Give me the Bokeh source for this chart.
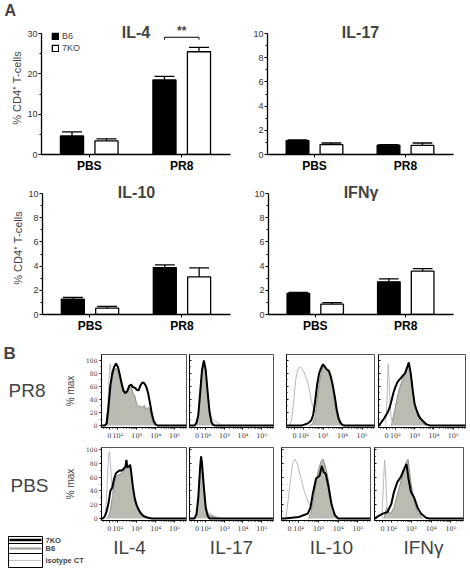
from bokeh.plotting import figure
from bokeh.layouts import column, row
from bokeh.models import Range1d, FixedTicker, Label, Legend, LegendItem
from bokeh.embed import file_html
from bokeh.resources import INLINE

# ---------------- Panel A: % CD4+ T-cells (mean, SEM) ----------------
GROUPS = ["PBS", "PR8"]
STRAINS = ["B6", "7KO"]

IL4_B6 = [4.6, 18.5]
IL4_B6_SEM = [1.0, 0.9]
IL4_KO = [3.4, 25.5]
IL4_KO_SEM = [0.5, 1.1]

IL17_B6 = [1.15, 0.77]
IL17_B6_SEM = [0.05, 0.04]
IL17_KO = [0.82, 0.75]
IL17_KO_SEM = [0.13, 0.20]

IL10_B6 = [1.26, 3.88]
IL10_B6_SEM = [0.16, 0.22]
IL10_KO = [0.52, 3.11]
IL10_KO_SEM = [0.16, 0.74]

IFNG_B6 = [1.75, 2.70]
IFNG_B6_SEM = [0.08, 0.25]
IFNG_KO = [0.85, 3.58]
IFNG_KO_SEM = [0.13, 0.22]

IL4_SIGNIF = "**"

# ---------------- Panel B: flow histograms (% max) ----------------
CYTOKINES = ["IL-4", "IL-17", "IL-10", "IFNγ"]
CONDITIONS = ["PR8", "PBS"]
LEGEND_LABELS = ["7KO", "B6", "isotype CT"]
HIST_TICKS = [1.54, 2, 3, 4, 5]
HIST_TICK_LABELS = ["0", "10²", "10³", "10⁴", "10⁵"]
HIST_Y_TICKS = [0, 20, 40, 60, 80, 100]

# (display position, % max)
PR8_IL4_KO = [(1.3, 0), (1.4, 3), (1.5, 30), (1.6, 62), (1.7, 80), (1.8, 90), (1.9, 95), (2.0, 90), (2.1, 78),
              (2.2, 64), (2.3, 53), (2.4, 50), (2.5, 53), (2.6, 61), (2.7, 63), (2.8, 59), (2.9, 58), (3.0, 55),
              (3.1, 54), (3.2, 62), (3.3, 66), (3.4, 65), (3.5, 60), (3.6, 50), (3.7, 35), (3.8, 18), (3.9, 7),
              (4.0, 2), (4.1, 0)]
PR8_IL4_B6 = [(1.4, 0), (1.5, 15), (1.6, 50), (1.7, 75), (1.8, 85), (1.9, 88), (2.0, 83), (2.1, 72), (2.2, 60),
              (2.3, 50), (2.4, 48), (2.5, 52), (2.6, 58), (2.7, 60), (2.8, 50), (2.9, 45), (3.0, 33), (3.1, 29),
              (3.2, 30), (3.3, 27), (3.4, 31), (3.5, 24), (3.6, 28), (3.7, 25), (3.8, 10), (3.9, 2), (4.0, 0)]
PR8_IL4_ISO = [(1.35, 0), (1.45, 20), (1.52, 70), (1.58, 95), (1.63, 88), (1.7, 55), (1.8, 20), (1.9, 5), (2.0, 0)]

PR8_IL17_KO = [(1.4, 0), (1.5, 4), (1.6, 16), (1.7, 50), (1.8, 85), (1.9, 100), (2.0, 85), (2.1, 52), (2.2, 22),
               (2.3, 6), (2.4, 1), (2.5, 0)]
PR8_IL17_B6 = [(1.4, 0), (1.5, 3), (1.6, 14), (1.7, 47), (1.8, 83), (1.9, 97), (2.0, 84), (2.1, 50), (2.2, 22),
               (2.3, 7), (2.4, 2), (2.5, 0)]
PR8_IL17_ISO = [(1.4, 0), (1.5, 3), (1.6, 15), (1.7, 48), (1.8, 84), (1.9, 96), (2.0, 82), (2.1, 50), (2.2, 25),
                (2.3, 12), (2.4, 8), (2.5, 6), (2.6, 5), (2.7, 3), (2.8, 1), (2.9, 0)]

PR8_IL10_KO = [(1.9, 0), (2.0, 1), (2.1, 2), (2.2, 3), (2.3, 5), (2.4, 8), (2.5, 17), (2.6, 38), (2.7, 63),
               (2.8, 80), (2.9, 88), (3.0, 94), (3.1, 90), (3.2, 86), (3.3, 84), (3.4, 75), (3.5, 62), (3.6, 45),
               (3.7, 25), (3.8, 11), (3.9, 4), (4.0, 1), (4.1, 0)]
PR8_IL10_B6 = [(2.3, 0), (2.4, 1), (2.5, 5), (2.6, 14), (2.7, 40), (2.8, 65), (2.9, 80), (3.0, 89), (3.1, 90),
               (3.2, 86), (3.3, 80), (3.4, 72), (3.5, 55), (3.6, 34), (3.7, 16), (3.8, 7), (3.9, 3), (4.0, 0)]
PR8_IL10_ISO = [(1.3, 0), (1.4, 10), (1.5, 38), (1.6, 70), (1.7, 86), (1.8, 90), (1.9, 88), (2.0, 84), (2.1, 76),
                (2.2, 68), (2.3, 56), (2.4, 38), (2.5, 28), (2.6, 19), (2.7, 12), (2.8, 8), (2.9, 5), (3.0, 3),
                (3.1, 2), (3.2, 1), (3.3, 0)]

PR8_IFNG_KO = [(1.15, 0), (1.2, 2), (1.3, 6), (1.4, 10), (1.5, 15), (1.6, 20), (1.7, 27), (1.8, 38), (1.9, 50),
               (2.0, 59), (2.1, 66), (2.2, 70), (2.3, 73), (2.4, 77), (2.5, 80), (2.6, 88), (2.7, 97), (2.8, 80),
               (2.9, 55), (3.0, 33), (3.1, 24), (3.2, 16), (3.3, 11), (3.4, 8), (3.5, 5), (3.6, 2), (3.7, 1),
               (3.8, 0)]
PR8_IFNG_B6 = [(1.8, 0), (1.9, 14), (2.0, 28), (2.1, 43), (2.2, 55), (2.3, 65), (2.4, 72), (2.5, 78), (2.6, 86),
               (2.7, 94), (2.8, 80), (2.9, 55), (3.0, 33), (3.1, 22), (3.2, 13), (3.3, 8), (3.4, 5), (3.5, 2),
               (3.6, 0)]
PR8_IFNG_ISO = [(1.5, 0), (1.57, 40), (1.63, 95), (1.68, 70), (1.74, 25), (1.8, 8), (1.9, 2), (2.0, 0)]

PBS_IL4_KO = [(1.2, 0), (1.3, 3), (1.4, 10), (1.5, 22), (1.6, 40), (1.7, 45), (1.8, 58), (1.9, 66), (2.0, 68),
              (2.1, 70), (2.2, 69), (2.3, 72), (2.4, 75), (2.45, 85), (2.5, 74), (2.6, 76), (2.65, 78), (2.7, 68),
              (2.8, 45), (2.9, 28), (3.0, 19), (3.1, 13), (3.2, 8), (3.3, 5), (3.4, 3), (3.6, 1), (3.8, 0)]
PBS_IL4_B6 = [(1.4, 0), (1.5, 3), (1.6, 12), (1.7, 30), (1.8, 50), (1.9, 60), (2.0, 63), (2.1, 64), (2.2, 66),
              (2.3, 68), (2.4, 72), (2.5, 74), (2.6, 76), (2.7, 72), (2.8, 40), (2.9, 24), (3.0, 15), (3.1, 11),
              (3.2, 6), (3.3, 3), (3.4, 2), (3.5, 0)]
PBS_IL4_ISO = [(1.3, 0), (1.4, 30), (1.5, 90), (1.55, 97), (1.6, 80), (1.7, 40), (1.8, 12), (1.9, 3), (2.0, 0)]

PBS_IL17_KO = [(1.4, 0), (1.5, 6), (1.6, 30), (1.7, 75), (1.75, 90), (1.8, 80), (1.9, 45), (2.0, 15), (2.1, 4),
               (2.2, 0)]
PBS_IL17_B6 = [(1.4, 0), (1.5, 5), (1.6, 28), (1.7, 72), (1.75, 88), (1.8, 78), (1.9, 45), (2.0, 18), (2.1, 8),
               (2.2, 5), (2.4, 3), (2.6, 1), (2.8, 0)]
PBS_IL17_ISO = [(1.4, 0), (1.5, 5), (1.6, 25), (1.7, 70), (1.75, 85), (1.8, 76), (1.9, 45), (2.0, 20), (2.1, 10),
                (2.3, 6), (2.5, 3), (2.8, 0)]

PBS_IL10_KO = [(1.3, 0), (2.0, 2), (2.46, 7), (2.6, 16), (2.71, 35), (2.88, 58), (3.06, 62), (3.17, 76),
               (3.27, 67), (3.37, 65), (3.49, 49), (3.66, 21), (3.83, 5), (4.0, 0)]
PBS_IL10_B6 = [(2.5, 0), (2.63, 9), (2.8, 35), (2.97, 67), (3.14, 83), (3.23, 86), (3.35, 76), (3.49, 58),
               (3.63, 30), (3.74, 12), (3.91, 2), (4.0, 0)]
PBS_IL10_ISO = [(1.35, 0), (1.52, 40), (1.69, 80), (1.81, 86), (1.95, 78), (2.12, 57), (2.29, 39), (2.46, 25),
                (2.63, 16), (2.8, 7), (3.06, 2), (3.3, 0)]

PBS_IFNG_KO = [(1.15, 0), (1.3, 3), (1.55, 7), (1.78, 9), (1.98, 21), (2.12, 39), (2.29, 53), (2.46, 60),
               (2.63, 72), (2.75, 79), (2.85, 58), (2.97, 39), (3.14, 30), (3.31, 16), (3.48, 7), (3.74, 1),
               (3.9, 0)]
PBS_IFNG_B6 = [(1.6, 0), (1.75, 16), (1.85, 10), (1.95, 7), (2.12, 16), (2.29, 35), (2.46, 53), (2.63, 69),
               (2.75, 83), (2.83, 86), (2.97, 53), (3.14, 25), (3.31, 9), (3.48, 2), (3.6, 0)]
PBS_IFNG_ISO = [(1.5, 0), (1.58, 50), (1.64, 85), (1.7, 60), (1.76, 15), (1.85, 3), (1.95, 0)]

# ---------------- styling ----------------
FONT = "Liberation Sans"
SERIF = "DejaVu Serif"
XLO, XHI = -0.884, 4.594
GROUP_STEP = 2.68
BAR_W = 0.67
CAP = 0.29
D_LO, D_HI = 1.128, 5.64
B6_FILL = "#bbbbb2"
B6_LINE = "#8e8e88"
ISO_LINE = "#b8b8c2"


def plain(w, h, xr, yr):
    p = figure(width=w, height=h, x_range=Range1d(*xr), y_range=Range1d(*yr),
               x_axis_type=None, y_axis_type=None, output_backend="svg", toolbar_location=None,
               min_border_left=0, min_border_right=0, min_border_top=0, min_border_bottom=0)
    p.outline_line_color = None
    p.grid.visible = False
    return p


def bar_panel(title, b6, b6e, ko, koe, ymax, ystep, w, h, bl, br, bt, bb,
              ylabel=None, legend=False, sig=None):
    p = figure(width=w, height=h, x_range=Range1d(XLO, XHI), y_range=Range1d(0, ymax * 1.1),
               output_backend="svg", toolbar_location=None,
               min_border_left=bl, min_border_right=br, min_border_top=bt, min_border_bottom=bb)
    p.outline_line_color = None
    p.xgrid.visible = False
    p.ygrid.visible = False
    xb = [g * GROUP_STEP for g in range(len(GROUPS))]
    xk = [x + 1 for x in xb]
    rb = p.vbar(x=xb, top=b6, width=BAR_W, fill_color="black", line_color="black", line_width=1.3)
    rk = p.vbar(x=xk, top=ko, width=BAR_W, fill_color="white", line_color="black", line_width=1.3)
    for xs, m, e in ((xb, b6, b6e), (xk, ko, koe)):
        tops = [a + b for a, b in zip(m, e)]
        p.segment(x0=xs, y0=m, x1=xs, y1=tops, line_color="black", line_width=1.3)
        p.segment(x0=[x - CAP for x in xs], y0=tops, x1=[x + CAP for x in xs], y1=tops,
                  line_color="black", line_width=1.3)

    centers = [x + 0.5 for x in xb]
    p.xaxis.ticker = FixedTicker(ticks=centers)
    p.xaxis.major_label_overrides = {c: g for c, g in zip(centers, GROUPS)}
    p.xaxis.major_tick_out = 3
    p.xaxis.major_tick_in = 0
    p.xaxis.minor_tick_out = 0
    p.xaxis.major_label_standoff = 1
    p.xaxis.major_label_text_font = FONT
    p.xaxis.major_label_text_font_size = "12px"
    p.xaxis.major_label_text_font_style = "bold"
    p.xaxis.major_label_text_color = "black"
    p.xaxis.axis_line_width = 1.3

    p.yaxis.ticker = FixedTicker(ticks=list(range(0, ymax + 1, ystep)),
                                 minor_ticks=[v + ystep / 2 for v in range(0, ymax, ystep)])
    p.yaxis.bounds = (0, ymax)
    p.yaxis.major_tick_out = 3
    p.yaxis.major_tick_in = 0
    p.yaxis.minor_tick_out = 2
    p.yaxis.minor_tick_in = 0
    p.yaxis.major_label_standoff = 1
    p.yaxis.major_label_text_font = FONT
    p.yaxis.major_label_text_font_size = "9px"
    p.yaxis.major_label_text_color = "#333333"
    p.yaxis.axis_line_width = 1.3
    if ylabel:
        p.yaxis.axis_label = ylabel
        p.yaxis.axis_label_text_font = FONT
        p.yaxis.axis_label_text_font_size = "11px"
        p.yaxis.axis_label_text_font_style = "normal"
        p.yaxis.axis_label_standoff = 1

    p.add_layout(Label(x=(XLO + XHI) / 2, y=ymax, y_offset=1, text=title, text_align="center",
                       text_baseline="middle", text_font=FONT, text_font_size="16px",
                       text_font_style="bold"))
    if legend:
        lg = Legend(items=[LegendItem(label=STRAINS[0], renderers=[rb]),
                           LegendItem(label=STRAINS[1], renderers=[rk])],
                    location="top_left", margin=10, padding=0, spacing=2,
                    glyph_width=8, glyph_height=8, label_height=8, label_width=10,
                    label_standoff=3, label_text_font=FONT, label_text_font_size="9px",
                    border_line_color=None, background_fill_alpha=0)
        p.add_layout(lg)
    if sig:
        g = 1
        yb = max(b6[g] + b6e[g], ko[g] + koe[g]) + 0.083 * ymax
        drop = 0.02 * ymax
        p.line(x=[xb[g], xb[g], xk[g], xk[g]], y=[yb - drop, yb, yb, yb - drop],
               line_color="black", line_width=1)
        p.add_layout(Label(x=(xb[g] + xk[g]) / 2, y=yb, text=sig, text_align="center",
                           text_baseline="bottom", y_offset=-1, text_font=FONT,
                           text_font_size="12px", text_font_style="bold"))
    return p


def xy(pts, pad=False):
    xs = [q[0] for q in pts]
    ys = [q[1] for q in pts]
    if pad:
        xs = [D_LO] + xs + [D_HI]
        ys = [0] + ys + [0]
    return xs, ys


def hist_panel(ko, b6, iso, w, h, bl, br, bt, bb, ytop, first=False):
    p = figure(width=w, height=h, x_range=Range1d(D_LO, D_HI), y_range=Range1d(-3, ytop),
               output_backend="svg", toolbar_location=None,
               min_border_left=bl, min_border_right=br, min_border_top=bt, min_border_bottom=bb)
    p.xgrid.visible = False
    p.ygrid.visible = False
    p.outline_line_color = "#555555"
    p.outline_line_width = 1
    bx, by = xy(b6)
    p.varea(x=bx, y1=[0] * len(bx), y2=by, fill_color=B6_FILL)
    p.line(bx, by, line_color=B6_LINE, line_width=1)
    ix, iy = xy(iso)
    p.line(ix, iy, line_color=ISO_LINE, line_width=1)
    kx, ky = xy(ko, pad=True)
    p.line(kx, ky, line_color="black", line_width=2)

    minor = [n + lg for n in (2, 3, 4, 5) for lg in (0.301, 0.477, 0.602, 0.699, 0.778, 0.845, 0.903, 0.954)
             if n + lg < D_HI]
    p.xaxis.ticker = FixedTicker(ticks=HIST_TICKS, minor_ticks=minor + [1.25, 1.4, 1.7, 1.85])
    p.xaxis.major_label_overrides = dict(zip(HIST_TICKS, HIST_TICK_LABELS))
    p.xaxis.major_tick_out = 2
    p.xaxis.major_tick_in = 0
    p.xaxis.minor_tick_out = 1
    p.xaxis.minor_tick_in = 0
    p.xaxis.major_label_standoff = 2
    p.xaxis.major_label_text_font = SERIF
    p.xaxis.major_label_text_font_size = "6.5px"
    p.xaxis.major_label_text_color = "#333333"
    p.xaxis.axis_line_color = "black"

    p.yaxis.ticker = FixedTicker(ticks=HIST_Y_TICKS, minor_ticks=[v + 10 for v in HIST_Y_TICKS[:-1]])
    if first:
        p.yaxis.major_tick_out = 2
        p.yaxis.major_tick_in = 0
        p.yaxis.minor_tick_out = 1
        p.yaxis.minor_tick_in = 0
        p.yaxis.major_label_standoff = 2
        p.yaxis.major_label_text_font = SERIF
        p.yaxis.major_label_text_font_size = "6px"
        p.yaxis.major_label_text_color = "#333333"
        p.yaxis.axis_label = "% max"
        p.yaxis.axis_label_text_font = FONT
        p.yaxis.axis_label_text_font_size = "10px"
        p.yaxis.axis_label_text_font_style = "normal"
        p.yaxis.axis_label_standoff = 7
    else:
        p.yaxis.major_label_overrides = {t: "" for t in HIST_Y_TICKS}
        p.yaxis.major_tick_out = 0
        p.yaxis.major_tick_in = 2
        p.yaxis.minor_tick_out = 0
        p.yaxis.minor_tick_in = 1
        p.yaxis.major_label_standoff = 0
    return p


# ---------------- header strip with panel letter A ----------------
strip_a = plain(470, 20, (0, 470), (20, 0))
strip_a.add_layout(Label(x=4, y=1, text="A", text_baseline="top", text_font=FONT,
                         text_font_size="16px", text_font_style="bold"))

# ---------------- Panel A ----------------
p_il4 = bar_panel("IL-4", IL4_B6, IL4_B6_SEM, IL4_KO, IL4_KO_SEM, 30, 10, 235, 155, 41, 5, 1, 20,
                  ylabel="% CD4⁺ T-cells", legend=True, sig=IL4_SIGNIF)
p_il17 = bar_panel("IL-17", IL17_B6, IL17_B6_SEM, IL17_KO, IL17_KO_SEM, 10, 2, 235, 155, 32, 17, 1, 20)
p_il10 = bar_panel("IL-10", IL10_B6, IL10_B6_SEM, IL10_KO, IL10_KO_SEM, 10, 2, 235, 160, 42, 5, 6, 20,
                   ylabel="% CD4⁺ T-cells")
p_ifng = bar_panel("IFNγ", IFNG_B6, IFNG_B6_SEM, IFNG_KO, IFNG_KO_SEM, 10, 2, 235, 160, 33, 17, 6, 20)

# ---------------- Panel B ----------------
R1 = dict(h=107, bt=19, bb=14, ytop=109)
R2 = dict(h=93, bt=5, bb=12, ytop=103)
cols1 = [(125, 36, 1), (93, 2, 7), (96, 6, 2), (94, 2, 5)]
cols2 = [(125, 36, 1), (89, 2, 3), (96, 5, 2), (98, 2, 7)]
pr8_data = [(PR8_IL4_KO, PR8_IL4_B6, PR8_IL4_ISO), (PR8_IL17_KO, PR8_IL17_B6, PR8_IL17_ISO),
            (PR8_IL10_KO, PR8_IL10_B6, PR8_IL10_ISO), (PR8_IFNG_KO, PR8_IFNG_B6, PR8_IFNG_ISO)]
pbs_data = [(PBS_IL4_KO, PBS_IL4_B6, PBS_IL4_ISO), (PBS_IL17_KO, PBS_IL17_B6, PBS_IL17_ISO),
            (PBS_IL10_KO, PBS_IL10_B6, PBS_IL10_ISO), (PBS_IFNG_KO, PBS_IFNG_B6, PBS_IFNG_ISO)]

row1 = [hist_panel(*curves, w, R1["h"], bl, br, R1["bt"], R1["bb"], R1["ytop"], first=(i == 0))
        for i, ((w, bl, br), curves) in enumerate(zip(cols1, pr8_data))]
row2 = [hist_panel(*curves, w, R2["h"], bl, br, R2["bt"], R2["bb"], R2["ytop"], first=(i == 0))
        for i, ((w, bl, br), curves) in enumerate(zip(cols2, pbs_data))]

# left column: panel letter B and condition names (page coordinates y 335..535)
left_b = plain(62, 200, (0, 62), (535, 335))
left_b.add_layout(Label(x=3, y=343, text="B", text_baseline="top", text_font=FONT,
                        text_font_size="17px", text_font_style="bold"))
left_b.add_layout(Label(x=8, y=390, text=CONDITIONS[0], text_baseline="middle", text_font=FONT,
                        text_font_size="19px"))
left_b.add_layout(Label(x=10, y=485, text=CONDITIONS[1], text_baseline="middle", text_font=FONT,
                        text_font_size="19px"))

# bottom strip: line legend and cytokine names (page coordinates y 535..572)
bottom = plain(470, 37, (0, 470), (572, 535))
for nm, cx in zip(CYTOKINES, [129, 231, 331, 423]):
    bottom.add_layout(Label(x=cx, y=547, text=nm, text_align="center", text_baseline="middle",
                            text_font=FONT, text_font_size="19px"))
LX0, LX1 = 8, 42
bottom.segment(x0=[LX0] * 4, y0=[536, 543, 553, 567], x1=[LX1] * 4, y1=[536, 543, 553, 567],
               line_color="black", line_width=1)
bottom.segment(x0=[LX0, LX1], y0=[536, 536], x1=[LX0, LX1], y1=[567, 567], line_color="black", line_width=1)
legend_styles = [("black", 2.5, "solid", 539.5), ("#9a9a94", 2, "solid", 548), ("#888888", 1, "1 1", 560)]
for (col, lw, dash, yy), lab in zip(legend_styles, LEGEND_LABELS):
    bottom.line(x=[LX0 + 1, LX1 - 1], y=[yy, yy], line_color=col, line_width=lw, line_dash=dash)
    bottom.add_layout(Label(x=LX1 + 3, y=yy, text=lab, text_baseline="middle", text_font=FONT,
                            text_font_size="7.5px", text_font_style="bold"))

layout = column(strip_a,
                row(p_il4, p_il17),
                row(p_il10, p_ifng),
                row(left_b, column(row(*row1), row(*row2))),
                bottom)

open("out.html", "w").write(file_html(layout, INLINE))
